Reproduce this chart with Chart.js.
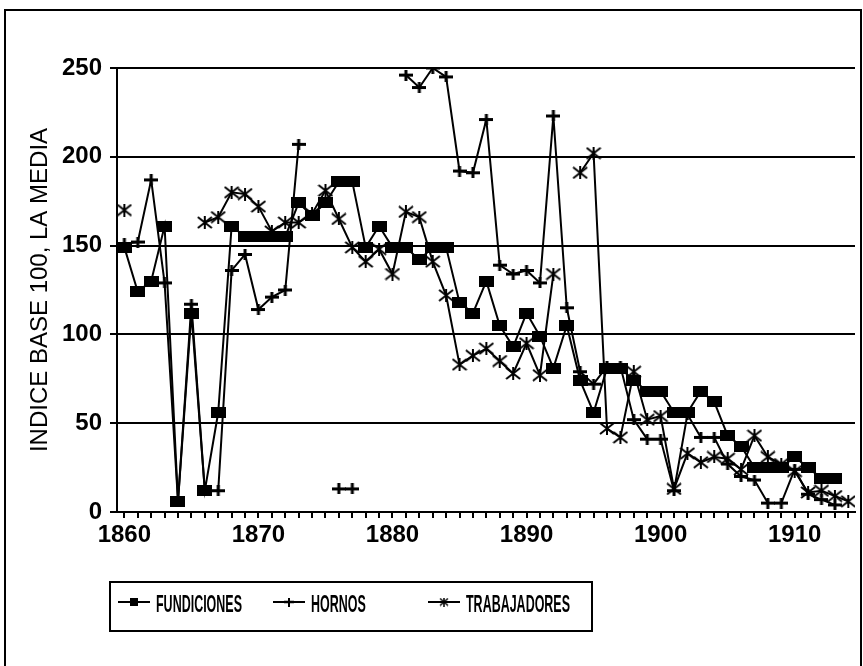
<!DOCTYPE html>
<html>
<head>
<meta charset="utf-8">
<script src="https://cdn.jsdelivr.net/npm/chart.js@4.4.1/dist/chart.umd.min.js"></script>
<style>
  html, body { margin: 0; padding: 0; background: #fff; }
  canvas { display: block; }
</style>
</head>
<body>
<canvas id="chart" width="863" height="666"></canvas>
<script>
// Years on the x axis
const years = [
  1860, 1861, 1862, 1863, 1864, 1865, 1866, 1867, 1868, 1869,
  1870, 1871, 1872, 1873, 1874, 1875, 1876, 1877, 1878, 1879,
  1880, 1881, 1882, 1883, 1884, 1885, 1886, 1887, 1888, 1889,
  1890, 1891, 1892, 1893, 1894, 1895, 1896, 1897, 1898, 1899,
  1900, 1901, 1902, 1903, 1904, 1905, 1906, 1907, 1908, 1909,
  1910, 1911, 1912, 1913, 1914
];

// Index values (base 100 = average)
const fundiciones = [
  149, 124, 130, 161, 6, 112, 12, 56, 161, 155,
  155, 155, 155, 174, 167, 174, 186, 186, 149, 161,
  149, 149, 142, 149, 149, 118, 112, 130, 105, 93,
  112, 99, 81, 105, 74, 56, 81, 81, 74, 68,
  68, 56, 56, 68, 62, 43, 37, 25, 25, 25,
  31, 25, 19, 19, null
];

const hornos = [
  151, 152, 187, 129, 6, 117, 12, 12, 136, 145,
  114, 121, 125, 207, null, null, 13, 13, null, null,
  null, 246, 239, 250, 245, 192, 191, 221, 139, 134,
  136, 129, 223, 115, 79, 72, 82, 82, 52, 41,
  41, 12, 55, 42, 42, 27, 20, 18, 5, 5,
  24, 10, 7, 4, null
];

const trabajadores = [
  170, null, null, null, null, null, 163, 166, 180, 179,
  172, 158, 163, 163, 168, 181, 165, 149, 141, 148,
  134, 169, 166, 141, 122, 83, 88, 92, 85, 78,
  95, 77, 134, null, 191, 202, 47, 42, 79, 52,
  54, 13, 33, 28, 31, 30, 24, 43, 31, 27,
  23, 11, 12, 9, 6
];

const yTicks = [0, 50, 100, 150, 200, 250];
const seriesLabels = ['FUNDICIONES', 'HORNOS', 'TRABAJADORES'];

// Marker images
function squareMark(w, h) {
  const c = document.createElement('canvas');
  c.width = w; c.height = h;
  const g = c.getContext('2d');
  g.fillStyle = '#000';
  g.fillRect(0, 0, w, h);
  return c;
}

function plusMark(w, h, lw) {
  const c = document.createElement('canvas');
  c.width = w; c.height = h;
  const g = c.getContext('2d');
  g.strokeStyle = '#000';
  g.lineWidth = lw;
  g.beginPath();
  g.moveTo(0, h / 2); g.lineTo(w, h / 2);
  g.moveTo(w / 2, 0); g.lineTo(w / 2, h);
  g.stroke();
  return c;
}

function starMark(w, h, lw) {
  const c = document.createElement('canvas');
  c.width = w; c.height = h;
  const g = c.getContext('2d');
  g.strokeStyle = '#000';
  g.lineWidth = lw;
  g.beginPath();
  g.moveTo(1, 1); g.lineTo(w - 1, h - 1);
  g.moveTo(w - 1, 1); g.lineTo(1, h - 1);
  g.moveTo(w / 2, 0); g.lineTo(w / 2, h);
  g.stroke();
  return c;
}

const plotMarks = [squareMark(15, 11), plusMark(14, 11, 3), starMark(16, 13, 2)];
const legendMarks = [squareMark(8, 8), plusMark(10, 9, 2), starMark(10, 9, 1.5)];

const toPoints = (vals) => years.map((yr, i) => ({ x: yr, y: vals[i] }));

// White page, outer frame
const framePlugin = {
  id: 'frame',
  beforeDraw(chart) {
    const ctx = chart.ctx;
    ctx.save();
    ctx.fillStyle = '#fff';
    ctx.fillRect(0, 0, chart.width, chart.height);
    ctx.strokeStyle = '#000';
    ctx.lineWidth = 2;
    ctx.strokeRect(5, 10, 856, 664);
    ctx.restore();
  }
};

// Boxed legend under the plot, fixed-width columns, condensed lettering
const boxLegendPlugin = {
  id: 'boxLegend',
  afterDraw(chart) {
    const ctx = chart.ctx;
    const left = 110, top = 582, right = 592, bottom = 631;
    ctx.save();
    ctx.strokeStyle = '#000';
    ctx.lineWidth = 2;
    ctx.strokeRect(left, top, right - left, bottom - top);
    const lineY = 602;
    chart.data.datasets.forEach((ds, i) => {
      const x0 = 118 + i * 155;
      ctx.beginPath();
      ctx.lineWidth = 2;
      ctx.moveTo(x0, lineY);
      ctx.lineTo(x0 + 32, lineY);
      ctx.stroke();
      const m = legendMarks[i];
      ctx.drawImage(m, x0 + 16 - m.width / 2, lineY - m.height / 2);
      ctx.save();
      ctx.translate(x0 + 38, 612);
      ctx.scale(0.52, 1);
      ctx.fillStyle = '#000';
      ctx.font = 'bold 24px "Liberation Sans", Arial, sans-serif';
      ctx.textBaseline = 'alphabetic';
      ctx.fillText(ds.label, 0, 0);
      ctx.restore();
    });
    ctx.restore();
  }
};

const tickFont = { family: '"Liberation Sans", Arial, sans-serif', size: 24, weight: 'bold' };

new Chart(document.getElementById('chart'), {
  type: 'line',
  data: {
    datasets: [
      {
        label: seriesLabels[0],
        data: toPoints(fundiciones),
        borderColor: '#000',
        borderWidth: 2,
        pointStyle: plotMarks[0],
        pointRadius: 6,
        tension: 0,
      },
      {
        label: seriesLabels[1],
        data: toPoints(hornos),
        borderColor: '#000',
        borderWidth: 2,
        pointStyle: plotMarks[1],
        pointRadius: 6,
        tension: 0,
      },
      {
        label: seriesLabels[2],
        data: toPoints(trabajadores),
        borderColor: '#000',
        borderWidth: 2,
        pointStyle: plotMarks[2],
        pointRadius: 6,
        tension: 0,
      },
    ],
  },
  options: {
    responsive: false,
    animation: false,
    devicePixelRatio: 1,
    layout: { padding: { top: 68, left: 12, right: 6, bottom: 0 } },
    plugins: {
      legend: { display: false },
      tooltip: { enabled: false },
    },
    scales: {
      x: {
        type: 'linear',
        min: 1859.45,
        max: 1914.5,
        ticks: {
          stepSize: 1,
          autoSkip: false,
          includeBounds: false,
          maxRotation: 0,
          padding: 3,
          color: '#000',
          font: tickFont,
          callback: (v) => (v % 10 === 0 ? String(v) : ''),
        },
        grid: { drawOnChartArea: false, drawTicks: true, tickLength: 6, color: '#000', lineWidth: 2 },
        border: { color: '#000', width: 2 },
        afterFit: (scale) => { scale.height = 154; },
      },
      y: {
        min: yTicks[0],
        max: yTicks[yTicks.length - 1],
        afterBuildTicks: (scale) => { scale.ticks = yTicks.map((v) => ({ value: v })); },
        ticks: { padding: 8, color: '#000', font: tickFont },
        grid: { color: '#000', lineWidth: 2, tickLength: 7 },
        border: { color: '#000', width: 2 },
        title: {
          display: true,
          text: 'INDICE BASE 100, LA MEDIA',
          color: '#000',
          font: { family: '"Liberation Sans", Arial, sans-serif', size: 24 },
          padding: { top: 14, bottom: 0 },
        },
        afterFit: (scale) => { scale.width = 105; },
      },
    },
  },
  plugins: [framePlugin, boxLegendPlugin],
});
</script>
</body>
</html>
